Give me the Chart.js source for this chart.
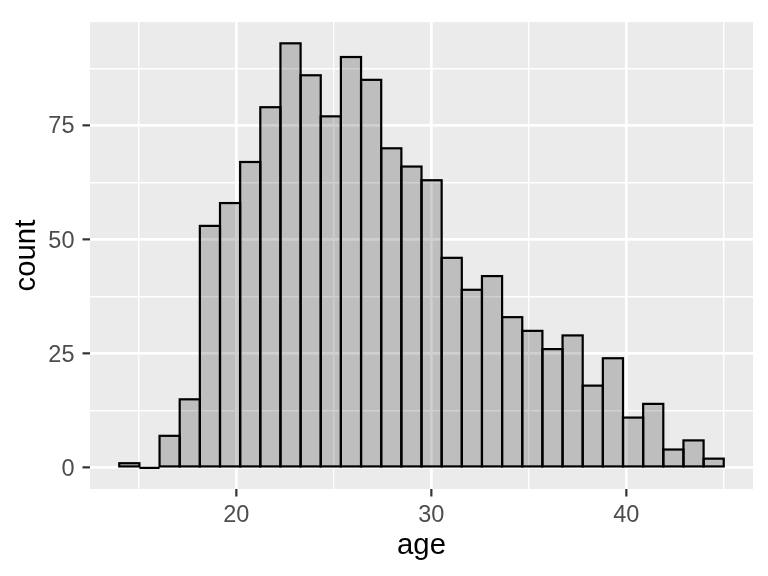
<!DOCTYPE html>
<html>
<head>
<meta charset="utf-8">
<script src="https://cdn.jsdelivr.net/npm/chart.js@4/dist/chart.umd.min.js"></script>
<style>
  html, body { margin: 0; padding: 0; background: #fff; }
  #wrap { width: 768px; height: 576px; }
</style>
</head>
<body>
<div id="wrap"><canvas id="hist"></canvas></div>
<script>
// histogram of age, 30 bins
const binStart = 14.0;
const binWidth = 31 / 30;
const counts = [1, 0, 7, 15, 53, 58, 67, 79, 93, 86, 77, 90, 85, 70, 66, 63,
                46, 39, 42, 33, 30, 26, 29, 18, 24, 11, 14, 4, 6, 2];
const xLabels = [20, 30, 40];
const yLabels = [0, 25, 50, 75];

const FONT = "'Liberation Sans', Arial, sans-serif";
const PANEL = '#EBEBEB';

const points = counts.map((c, i) => ({ x: binStart + binWidth * (i + 0.5), y: c }));

// grey panel behind the grid
const panelBg = {
  id: 'panelBg',
  beforeDraw(chart) {
    const { ctx, chartArea: a } = chart;
    ctx.save();
    ctx.fillStyle = '#fff';
    ctx.fillRect(0, 0, chart.width, chart.height);
    ctx.fillStyle = PANEL;
    ctx.fillRect(a.left, a.top, a.right - a.left, a.bottom - a.top);
    ctx.restore();
  }
};

// ggplot style outlines (shared edges, zero bins too)
const barOutline = {
  id: 'barOutline',
  afterDatasetsDraw(chart) {
    const { ctx } = chart;
    const meta = chart.getDatasetMeta(0);
    ctx.save();
    ctx.strokeStyle = '#000';
    ctx.lineWidth = 2.2;
    meta.data.forEach(el => {
      const { x, y, base, width } = el.getProps(['x', 'y', 'base', 'width'], true);
      ctx.strokeRect(x - width / 2, y, width, base - y);
    });
    ctx.restore();
  }
};

const isMajor = (v, list) => list.includes(v);

new Chart(document.getElementById('hist'), {
  type: 'bar',
  data: {
    datasets: [{
      data: points,
      backgroundColor: 'rgba(0,0,0,0.19)',
      borderWidth: 0,
      barPercentage: 1,
      categoryPercentage: 1
    }]
  },
  options: {
    responsive: true,
    maintainAspectRatio: false,
    animation: false,
    layout: { padding: { top: 14, right: 15, left: 0, bottom: 0 } },
    plugins: { legend: { display: false }, tooltip: { enabled: false } },
    scales: {
      x: {
        type: 'linear',
        min: 12.5,
        max: 46.5,
        offset: false,
        afterFit(s) { s.height = 87; },
        border: { display: false },
        grid: {
          offset: false,
          color: '#fff',
          lineWidth: c => isMajor(c.tick.value, xLabels) ? 2.7 : 1.4,
          tickColor: c => isMajor(c.tick.value, xLabels) ? '#333' : 'rgba(0,0,0,0)',
          tickWidth: 2.2,
          tickLength: 7.5
        },
        ticks: {
          stepSize: 5,
          includeBounds: false,
          autoSkip: false,
          maxRotation: 0,
          padding: 4.8,
          color: '#4D4D4D',
          font: { family: FONT, size: 23.5 },
          callback: v => isMajor(v, xLabels) ? String(v) : ''
        },
        title: {
          display: true,
          text: 'age',
          color: '#000',
          font: { family: FONT, size: 29.3 },
          padding: { top: 0, bottom: 12.4 }
        }
      },
      y: {
        min: -4.65,
        max: 97.65,
        afterFit(s) { s.width = 90; },
        border: { display: false },
        grid: {
          color: '#fff',
          lineWidth: c => isMajor(c.tick.value, yLabels) ? 2.7 : 1.4,
          tickColor: c => isMajor(c.tick.value, yLabels) ? '#333' : 'rgba(0,0,0,0)',
          tickWidth: 2.2,
          tickLength: 7.5
        },
        ticks: {
          stepSize: 12.5,
          includeBounds: false,
          autoSkip: false,
          padding: 8,
          labelOffset: 1.5,
          color: '#4D4D4D',
          font: { family: FONT, size: 23.5 },
          callback: v => isMajor(v, yLabels) ? String(v) : ''
        },
        title: {
          display: true,
          text: 'count',
          color: '#000',
          font: { family: FONT, size: 29.3 },
          padding: { top: 9.4, bottom: 0 }
        }
      }
    }
  },
  plugins: [panelBg, barOutline]
});
</script>
</body>
</html>
